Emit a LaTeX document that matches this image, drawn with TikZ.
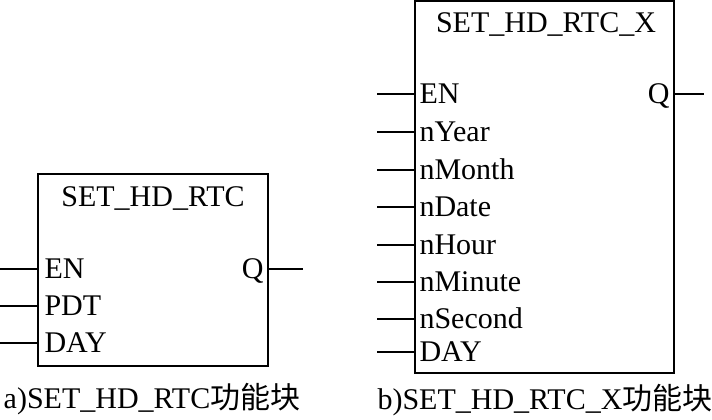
\documentclass[tikz,border=0pt]{standalone}
\usepackage{fontspec}
\setmainfont{Liberation Serif}
\newfontfamily\cjk{Noto Sans CJK SC}
\begin{document}
\begin{tikzpicture}[x=1pt,y=-1pt,
  fb/.style={draw,line width=1.4pt,rectangle,inner sep=0pt},
  pin/.style={line width=1.4pt},
  lbl/.style={font=\fontsize{30}{31}\selectfont,text height=19.5pt,text depth=0pt,inner xsep=7pt,inner ysep=0pt},
  ttl/.style={font=\fontsize{30}{31}\selectfont,text height=19.5pt,text depth=0pt,inner sep=0pt}]
\useasboundingbox (0,0) rectangle (712,420);
% ---- block a
\node[fb,minimum width=230pt,minimum height=192pt] (boxA) at (153,270) {};
\node[ttl] (titleA) at (153,197) {SET\_HD\_RTC};
\node[lbl,anchor=west] (enA) at (boxA.west |- 0,269) {EN};
\node[lbl,anchor=west] (pdtA) at (boxA.west |- 0,306) {PDT};
\node[lbl,anchor=west] (dayA) at (boxA.west |- 0,343) {DAY};
\node[lbl,anchor=east,inner xsep=5pt] (qA) at (boxA.east |- 0,269) {Q};
\coordinate (iA1) at (0,269);
\coordinate (iA2) at (0,306);
\coordinate (iA3) at (0,343);
\coordinate (oA) at (303,269);
\draw[pin] (iA1) -- (enA.west);
\draw[pin] (iA2) -- (pdtA.west);
\draw[pin] (iA3) -- (dayA.west);
\draw[pin] (qA.east) -- (oA);
\node[ttl] (capA) at (152,399) {a)SET\_HD\_RTC{\cjk 功能块}};
% ---- block b
\node[fb,minimum width=259pt,minimum height=372pt] (boxB) at (544.5,187) {};
\node[ttl] (titleB) at (546,23) {SET\_HD\_RTC\_X};
\node[lbl,anchor=west,inner xsep=5pt] (enB) at (boxB.west |- 0,94) {EN};
\node[lbl,anchor=west,inner xsep=5pt] (yrB) at (boxB.west |- 0,132) {nYear};
\node[lbl,anchor=west,inner xsep=5pt] (moB) at (boxB.west |- 0,170) {nMonth};
\node[lbl,anchor=west,inner xsep=5pt] (daB) at (boxB.west |- 0,207) {nDate};
\node[lbl,anchor=west,inner xsep=5pt] (hrB) at (boxB.west |- 0,245) {nHour};
\node[lbl,anchor=west,inner xsep=5pt] (miB) at (boxB.west |- 0,282) {nMinute};
\node[lbl,anchor=west,inner xsep=5pt] (seB) at (boxB.west |- 0,319) {nSecond};
\node[lbl,anchor=west,inner xsep=5pt] (dyB) at (boxB.west |- 0,352) {DAY};
\node[lbl,anchor=east,inner xsep=5pt] (qB) at (boxB.east |- 0,94) {Q};
\coordinate (iB1) at (377,94);
\coordinate (iB2) at (377,132);
\coordinate (iB3) at (377,170);
\coordinate (iB4) at (377,207);
\coordinate (iB5) at (377,245);
\coordinate (iB6) at (377,282);
\coordinate (iB7) at (377,319);
\coordinate (iB8) at (377,352);
\coordinate (oB) at (704,94);
\draw[pin] (iB1) -- (enB.west);
\draw[pin] (iB2) -- (yrB.west);
\draw[pin] (iB3) -- (moB.west);
\draw[pin] (iB4) -- (daB.west);
\draw[pin] (iB5) -- (hrB.west);
\draw[pin] (iB6) -- (miB.west);
\draw[pin] (iB7) -- (seB.west);
\draw[pin] (iB8) -- (dyB.west);
\draw[pin] (qB.east) -- (oB);
\node[ttl] (capB) at (545,400) {b)SET\_HD\_RTC\_X{\cjk 功能块}};
\end{tikzpicture}
\end{document}
